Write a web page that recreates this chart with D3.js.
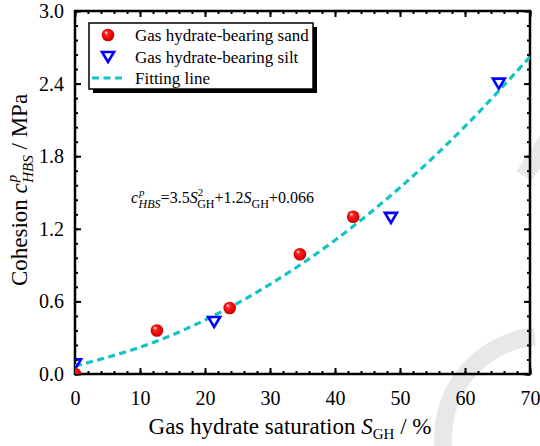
<!DOCTYPE html>
<html>
<head>
<meta charset="utf-8">
<script src="https://cdn.jsdelivr.net/npm/d3@7"></script>
<style>
  body { margin: 0; background: #fff; }
</style>
</head>
<body>
<div id="chart"></div>
<script>
// data
var sandS = [0, 12.6, 23.8, 34.6, 42.8];
var sandC = [0.0, 0.36, 0.545, 0.99, 1.30];
var siltS = [0, 21.4, 48.6, 65.2];
var siltC = [0.08, 0.43, 1.29, 2.40];
// fitted curve, read at every 10 %
var fitS = [0, 10, 20, 30, 40, 50, 60, 70];
var fitC = [0.066, 0.221, 0.446, 0.741, 1.106, 1.541, 2.046, 2.621];
var xTicks = [0, 10, 20, 30, 40, 50, 60, 70];
var yTicks = [0.0, 0.6, 1.2, 1.8, 2.4, 3.0];

(function()
{
	var FONT = "'Liberation Serif', 'Times New Roman', Times, serif";
	var W = 540, H = 446;
	var m = {left: 75, top: 11, right: 10, bottom: 72};
	var svg = d3.select("#chart").append("svg").attr("width", W).attr("height", H)
		.style("font-family", FONT);

	var x = d3.scaleLinear().domain([0, 70]).range([m.left, W - m.right]);
	var y = d3.scaleLinear().domain([0, 3]).range([H - m.bottom, m.top]);

	// faint watermark behind everything
	var wm = svg.append("g").attr("fill", "none").attr("stroke", "#e8e8e8").attr("stroke-width", 18);
	wm.append("path").attr("d", d3.arc()({innerRadius: 102, outerRadius: 102, startAngle: -1.7, endAngle: -0.1}))
		.attr("transform", "translate(545,438)");
	wm.append("line").attr("x1", 548).attr("y1", 140).attr("x2", 524).attr("y2", 176);

	var defs = svg.append("defs");
	var grad = defs.append("radialGradient").attr("id", "ball").attr("cx", "50%").attr("cy", "50%").attr("r", "55%").attr("fx", "32%").attr("fy", "28%");
	grad.append("stop").attr("offset", "0%").attr("stop-color", "#ffffff");
	grad.append("stop").attr("offset", "30%").attr("stop-color", "#ff2020");
	grad.append("stop").attr("offset", "80%").attr("stop-color", "#e00000");
	grad.append("stop").attr("offset", "100%").attr("stop-color", "#a00000");
	defs.append("clipPath").attr("id", "plotclip").append("rect")
		.attr("x", m.left).attr("y", m.top).attr("width", W - m.left - m.right).attr("height", H - m.top - m.bottom);

	// axes with inward ticks on all four sides
	var xMinor = d3.range(0, 71, 2);
	var yMinor = d3.range(0, 3.001, 0.12);
	function styleAxis(g)
	{
		g.attr("font-family", null).attr("font-size", null);
		g.select(".domain").remove();
		g.selectAll("line").attr("stroke", "#000").attr("stroke-width", 2);
		g.selectAll("text").style("font-size", "20px").style("font-family", FONT).attr("fill", "#000");
	}
	svg.append("g").attr("transform", "translate(0," + y(0) + ")")
		.call(d3.axisBottom(x).tickValues(xMinor).tickSize(-3).tickFormat("")).call(styleAxis);
	svg.append("g").attr("transform", "translate(0," + y(0) + ")")
		.call(d3.axisBottom(x).tickValues(xTicks).tickSize(-6).tickPadding(17).tickFormat(d3.format("d"))).call(styleAxis);
	svg.append("g").attr("transform", "translate(0," + y(3) + ")")
		.call(d3.axisTop(x).tickValues(xMinor).tickSize(-3).tickFormat("")).call(styleAxis);
	svg.append("g").attr("transform", "translate(0," + y(3) + ")")
		.call(d3.axisTop(x).tickValues(xTicks).tickSize(-6).tickFormat("")).call(styleAxis);
	svg.append("g").attr("transform", "translate(" + x(0) + ",0)")
		.call(d3.axisLeft(y).tickValues(yMinor).tickSize(-3).tickFormat("")).call(styleAxis);
	svg.append("g").attr("transform", "translate(" + x(0) + ",0)")
		.call(d3.axisLeft(y).tickValues(yTicks).tickSize(-6).tickPadding(11).tickFormat(d3.format(".1f"))).call(styleAxis);
	svg.append("g").attr("transform", "translate(" + x(70) + ",0)")
		.call(d3.axisRight(y).tickValues(yMinor).tickSize(-3).tickFormat("")).call(styleAxis);
	svg.append("g").attr("transform", "translate(" + x(70) + ",0)")
		.call(d3.axisRight(y).tickValues(yTicks).tickSize(-6).tickFormat("")).call(styleAxis);

	svg.append("rect").attr("x", x(0)).attr("y", y(3)).attr("width", x(70) - x(0)).attr("height", y(0) - y(3))
		.attr("fill", "none").attr("stroke", "#000").attr("stroke-width", 2.5);

	var plot = svg.append("g").attr("clip-path", "url(#plotclip)");

	// fitting line
	var fit = fitS.map(function(s, i) { return [s, fitC[i]]; });
	plot.append("path").datum(fit)
		.attr("d", d3.line().x(function(d) { return x(d[0]); }).y(function(d) { return y(d[1]); }).curve(d3.curveNatural))
		.attr("fill", "none").attr("stroke", "#14c4c4").attr("stroke-width", 3.2).attr("stroke-dasharray", "7,4.5");

	var tri = "M-6,-5 L6,-5 L0,5 Z";
	function drawSand(g, px, py)
	{
		g.append("circle").attr("cx", px).attr("cy", py).attr("r", 6.3).attr("fill", "url(#ball)");
	}
	function drawSilt(g, px, py)
	{
		g.append("path").attr("d", tri).attr("transform", "translate(" + px + "," + py + ")")
			.attr("fill", "none").attr("stroke", "#0000ff").attr("stroke-width", 2.6).attr("stroke-linejoin", "miter");
	}
	siltS.forEach(function(s, i) { drawSilt(plot, x(s), y(siltC[i])); });
	sandS.forEach(function(s, i) { drawSand(plot, x(s), y(sandC[i])); });

	// legend
	var lg = svg.append("g");
	lg.append("rect").attr("x", 93).attr("y", 27).attr("width", 224).attr("height", 66).attr("fill", "#000");
	lg.append("rect").attr("x", 89).attr("y", 23).attr("width", 224).attr("height", 66)
		.attr("fill", "#fff").attr("stroke", "#000").attr("stroke-width", 1.5);
	drawSand(lg, 108, 35);
	drawSilt(lg, 108, 57);
	lg.append("line").attr("x1", 92).attr("x2", 126).attr("y1", 78).attr("y2", 78)
		.attr("stroke", "#14c4c4").attr("stroke-width", 3.2).attr("stroke-dasharray", "7,4.5");
	var legendLabels = ["Gas hydrate-bearing sand", "Gas hydrate-bearing silt", "Fitting line"];
	lg.selectAll("text.lab").data(legendLabels).enter().append("text").attr("class", "lab")
		.attr("x", 135).attr("y", function(d, i) { return 41 + i * 21.5; })
		.style("font-size", "17px").style("font-family", FONT).text(function(d) { return d; });

	// rich text helper: parts of [text, italic, size, dx, dy]
	function rich(t, parts)
	{
		t.style("font-family", FONT);
		parts.forEach(function(p)
		{
			var s = t.append("tspan").text(p[0]).style("font-size", p[2] + "px");
			if (p[1]) s.style("font-style", "italic");
			if (p[3]) s.attr("dx", p[3]);
			if (p[4]) s.attr("dy", p[4]);
		});
	}

	// equation
	var eq = svg.append("text").attr("x", 131).attr("y", 203);
	rich(eq, [
		["c", 1, 16], ["p", 1, 11, 1, -7], ["HBS", 1, 12, -6, 12], ["=3.5", 0, 16, 0, -5],
		["S", 1, 16], ["2", 0, 11, 0, -7], ["GH", 0, 12, -6, 12], ["+1.2", 0, 16, 0, -5],
		["S", 1, 16], ["GH", 0, 12, 0, 5], ["+0.066", 0, 16, 0, -5]
	]);

	// axis titles
	var xt = svg.append("text").attr("x", 290).attr("y", 434).attr("text-anchor", "middle");
	rich(xt, [["Gas hydrate saturation ", 0, 23], ["S", 1, 23], ["GH", 0, 15, 0, 5], [" / %", 0, 23, 0, -5]]);

	var yt = svg.append("text").attr("transform", "translate(27,190) rotate(-90)").attr("text-anchor", "middle");
	rich(yt, [["Cohesion ", 0, 23], ["c", 1, 23], ["p", 1, 15, 1, -10], ["HBS", 1, 15, -8, 16], [" / MPa", 0, 23, 0, -6]]);
})();
</script>
</body>
</html>
